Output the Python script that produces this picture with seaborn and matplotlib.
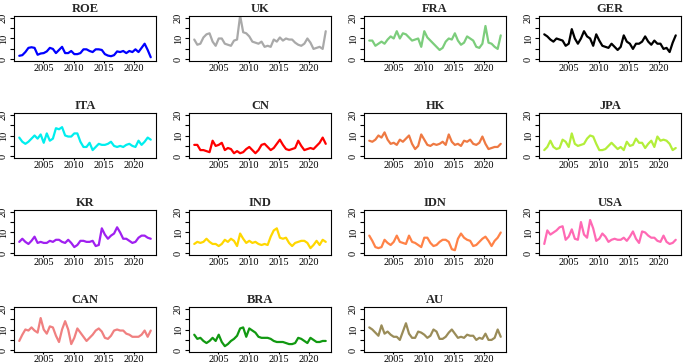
import numpy as np
import pandas as pd
import matplotlib
matplotlib.use("Agg")
import matplotlib.pyplot as plt
import seaborn as sns

countries = ["ROE", "UK", "FRA", "GER", "ITA", "CN", "HK", "JPA",
             "KR", "IND", "IDN", "USA", "CAN", "BRA", "AU"]
colors = ["#0000FF", "#A9A9A9", "#7CCD7C", "#000000", "#00EEEE", "#FF0000",
          "#EE7942", "#B3EE3A", "#A020F0", "#FFD700", "#FF8247", "#FF69B4",
          "#F08080", "#119911", "#9A8C58"]

roe = [1.7, 2, 3.5, 5.5, 5.8, 5.5, 2.2, 2.8, 3, 3.8,
       5.5, 5, 3, 4.5, 6, 3, 3, 4, 2.5, 2.5,
       3, 4.8, 4.8, 4, 3.5, 4.8, 4.8, 4.5, 2.5, 1.8,
       1.5, 2, 3.8, 3.5, 4, 3, 4, 3.5, 4.8, 3.5,
       5.5, 7.5, 4.5, 1]
uk = [9.5, 7, 7.5, 10.5, 12, 12.5, 8.5, 6.5, 10, 10,
      7.5, 7, 6.5, 9, 9.5, 21, 13, 12.5, 11, 8.5,
      8, 7.5, 8.5, 6, 6.5, 6, 9.5, 8.5, 10.5, 9,
      10, 9.5, 9.5, 8, 7, 6.5, 7.5, 10, 8, 5,
      5.5, 6, 5, 13.5]
fra = [9, 9, 6.5, 7.5, 8.5, 7.5, 9.5, 11, 10, 13.5,
       10, 12.5, 12, 10.5, 9, 9.5, 10, 6, 13.5, 10.5,
       9, 7.5, 6, 4.5, 5.5, 8.5, 10, 9.5, 12.5, 9,
       7, 8, 11, 10, 9, 6, 5.5, 7.5, 16, 8,
       7.5, 6, 5, 11.5]
ger = [12, 11, 9.5, 8.5, 10, 9.5, 9, 6.5, 7.5, 14.5,
       10, 7.5, 10, 13.5, 11, 10, 6.5, 12, 9, 6.5,
       6, 5.5, 7.5, 6, 4.5, 6, 11.5, 8.5, 7.5, 5,
       7.5, 7.5, 8.5, 11, 8.5, 7, 9, 7.5, 7.5, 5,
       5.5, 3.5, 8, 11.5]
ita = [9, 7, 6, 7, 8.5, 10, 8.5, 10.5, 6.5, 11,
       7.5, 8.5, 13.5, 13, 14, 10, 9.5, 9.5, 11, 11,
       7, 4.5, 4.5, 6.5, 3, 4.5, 6, 5.5, 5.5, 6,
       7, 5, 4.5, 5, 4.5, 5.5, 6, 5, 4.5, 7.5,
       5.5, 7, 9, 8]
cn = [5.5, 5.5, 3, 3, 2.5, 2, 7.5, 5, 5.5, 6.5,
      3, 4, 3.5, 1.5, 2.5, 1.5, 2, 3.5, 4.5, 3,
      1.5, 3, 5.5, 6, 4.5, 3, 4, 6, 8, 5.5,
      3.5, 3, 3.5, 4, 7.5, 5, 3, 3.5, 4, 3.5,
      5, 6.5, 9, 6]
hk = [7.5, 7, 8, 10, 9, 11.5, 8, 6, 6.5, 5.5,
      8, 7, 8.5, 10, 6, 3.5, 5, 10.5, 8, 5.5,
      5, 6, 5.5, 6, 7, 5.5, 10.5, 7, 5.5, 6,
      5, 7.5, 7, 8, 6, 5.5, 6.5, 9.5, 6, 3.5,
      4, 4.5, 4.5, 6]
jpa = [3, 4.5, 7.5, 4.5, 3.5, 4, 8, 7, 4.5, 11,
       6, 5, 5.5, 6, 8.5, 10, 9.5, 6, 3, 3,
       3.5, 5, 6.5, 5, 3.5, 4.5, 3, 7, 5, 5.5,
       8.5, 6.5, 6.5, 4, 6, 7.5, 4.5, 9.5, 7.5, 8,
       7.5, 6, 3, 4]
kr = [5.5, 7, 5.5, 4.5, 6, 8, 5, 5.5, 5, 5,
      6, 5.5, 6.5, 6.5, 5.5, 5, 6.5, 5, 3, 4,
      6, 6, 5.5, 5.5, 6, 3.5, 4, 12, 9, 7,
      8.5, 9.5, 12.5, 10, 7, 7, 6, 5, 5.5, 7.5,
      8.5, 8.5, 7.5, 7]
ind = [4.5, 5.5, 5, 5.5, 7, 5.5, 4.5, 4.5, 3.5, 4.5,
       6.5, 5.5, 7, 6, 3.5, 9.5, 7, 5, 6, 5,
       5.5, 4.5, 4, 4.5, 4, 8, 11, 12, 7.5, 7,
       7.5, 5, 3.5, 5, 5.5, 6, 6, 5, 2.5, 4,
       6, 4, 6.5, 5.5]
idn = [8.5, 6, 3, 2.5, 3, 6.5, 5, 4, 5.5, 8.5,
       5.5, 5, 4.5, 8.5, 5.5, 5, 4, 3, 7.5, 7.5,
       5, 3.5, 4, 5.5, 6.5, 6.5, 5.5, 2, 1.5, 7,
       9.5, 7.5, 6.5, 6, 3.5, 4, 5.5, 7, 8, 6,
       3.5, 6, 7.5, 10]
usa = [4.5, 11, 9, 10, 11, 12.5, 13, 6.5, 8, 11.5,
       7, 6.5, 15, 9, 7.5, 16, 12, 6, 7, 9.5,
       8, 5.5, 6.5, 7, 6.5, 6.5, 7.5, 6, 8, 10.5,
       7, 5, 10.5, 10, 8.5, 7.5, 7.5, 6, 5.5, 8.5,
       5.5, 4.5, 5, 6.5]
can = [4.5, 7.5, 10, 9.5, 11, 9.5, 8.5, 15.5, 10, 8,
       11.5, 11, 7, 4, 10, 14, 10, 3, 6, 10.5,
       8.5, 6.5, 4.5, 6, 7.5, 9.5, 10.5, 9, 6, 5.5,
       7, 9.5, 10, 9.5, 9.5, 8, 7.5, 6.5, 6.5, 6.5,
       7.5, 9.5, 6.5, 9.5]
bra = [7.5, 5.5, 6, 4.5, 3.5, 4.5, 6, 4.5, 7.5, 4,
       2, 3, 4.5, 5.5, 7, 10.5, 11, 6.5, 10.5, 9.5,
       8.5, 6.5, 6, 6, 6, 5.5, 4.5, 4, 4, 4,
       3.5, 3, 3, 3.5, 6, 5.5, 4.5, 3.5, 6, 5,
       4, 4, 4.5, 4.5]
au = [11, 10, 8.5, 7, 12, 8, 9, 7.5, 6.5, 6.5,
      5, 9, 13, 8, 6, 6, 9, 8.5, 7.5, 6,
      7, 10, 9, 5.5, 5.5, 6.5, 8.5, 10, 8, 6,
      6.5, 6, 7.5, 7, 7, 5, 6, 5.5, 8, 5,
      5, 6, 10, 6.5]

series = [roe, uk, fra, ger, ita, cn, hk, jpa, kr, ind, idn, usa, can, bra, au]
x_ticks = [2005, 2010, 2015, 2020]
y_ticks = [0, 5, 10, 15, 20]
y_labels = ["0", "", "10", "", "20"]

sns.set_theme(style="ticks")
plt.rcParams['font.family'] = ['Liberation Serif', 'DejaVu Serif']

W, H = 685, 364
fig = plt.figure(figsize=(W / 100, H / 100), dpi=100)
fig.patch.set_facecolor("white")

for i, (name, vals, col) in enumerate(zip(countries, series, colors)):
    r, c = divmod(i, 4)
    left = 14 + 175 * c
    top = 16 + 97 * r
    ax = fig.add_axes([left / W, 1 - (top + 45) / H, 142 / W, 45 / H])
    df = pd.DataFrame({"year": np.linspace(2001, 2022.75, len(vals)),
                       "value": vals})
    sns.lineplot(data=df, x="year", y="value", ax=ax, color=col,
                 linewidth=1.6)
    ax.set_xlim(2000.13, 2023.62)
    ax.set_ylim(-0.8, 20.8)
    ax.set_xticks(x_ticks)
    ax.set_xticklabels([str(t) for t in x_ticks])
    ax.set_yticks(y_ticks)
    ax.set_yticklabels(y_labels)
    ax.tick_params(axis="y", labelsize=7.5, length=3, width=0.8, pad=1.5,
                   colors="black")
    ax.tick_params(axis="x", labelsize=7.5, length=1.5, width=0.8, pad=0.8,
                   colors="black")
    for lbl in ax.get_yticklabels():
        lbl.set_rotation(90)
        lbl.set_va("center")
    ax.set_xlabel("")
    ax.set_ylabel("")
    ax.set_facecolor("white")
    for s in ax.spines.values():
        s.set_visible(True)
        s.set_linewidth(0.8)
        s.set_color("black")
    ax.set_title(name, fontsize=9, fontweight="bold", pad=3)

fig.savefig("out.png", dpi=100, facecolor="white")
